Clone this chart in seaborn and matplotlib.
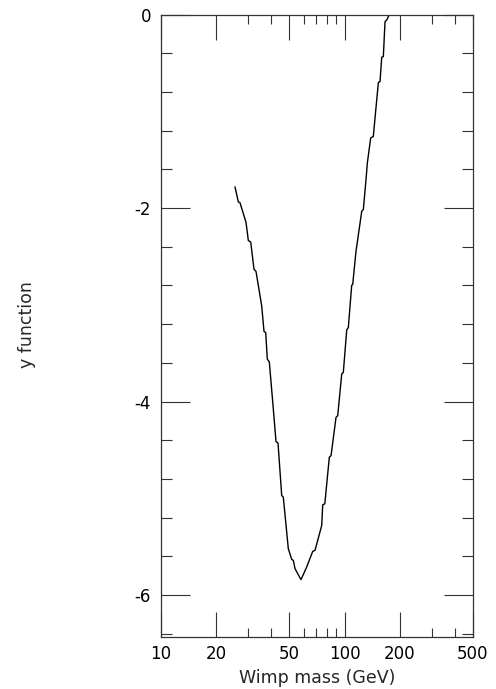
import numpy as np
import pandas as pd
import matplotlib
matplotlib.use("Agg")
import matplotlib.pyplot as plt
import seaborn as sns

# Data (Wimp mass in GeV, y function)
mass = [25.36, 26.44, 27.01, 29.12, 29.97, 30.89, 32.19, 33.00, 35.44, 36.48,
        37.26, 38.02, 38.98, 40.99, 42.40, 43.47, 45.53, 46.45, 49.46, 51.61,
        52.65, 53.80, 57.28, 57.99, 62.29, 67.14, 69.10, 75.16, 76.11, 78.13,
        82.67, 84.45, 89.92, 91.84, 96.55, 98.51, 102.8, 104.9, 109.4, 110.8,
        115.5, 124.1, 126.6, 130.9, 133.1, 138.8, 143.4, 152.8, 156.0, 159.4,
        162.6, 166.1, 169.7, 175.3, 178.0]
yfunc = [-1.781, -1.936, -1.946, -2.149, -2.335, -2.353, -2.634, -2.655, -3.012, -3.276,
         -3.287, -3.562, -3.590, -4.077, -4.414, -4.428, -4.971, -4.988, -5.521, -5.631,
         -5.641, -5.727, -5.823, -5.840, -5.709, -5.548, -5.538, -5.280, -5.067, -5.057,
         -4.575, -4.559, -4.163, -4.146, -3.716, -3.699, -3.260, -3.235, -2.799, -2.789,
         -2.445, -2.033, -2.015, -1.706, -1.534, -1.276, -1.260, -0.703, -0.693, -0.441,
         -0.435, -0.074, -0.057, 0.0, 0.0]

xticks_major = [10, 20, 50, 100, 200, 500]
xtick_labels = ["10", "20", "50", "100", "200", "500"]
xticks_minor = [30, 40, 60, 70, 80, 90, 300, 400]
yticks_major = [0, -2, -4, -6]
ytick_labels = ["0", "-2", "-4", "-6"]

sns.set_style("ticks")
plt.rcParams["font.family"] = ["DejaVu Sans"]
plt.rcParams["axes.unicode_minus"] = False

fig = plt.figure(figsize=(4.96, 6.89), dpi=100)
ax = fig.add_axes([160.7 / 496, 1 - 636.7 / 689, (473 - 160.7) / 496, (636.7 - 14.5) / 689])

df = pd.DataFrame({"mass": mass, "y": yfunc})
sns.lineplot(data=df, x="mass", y="y", sort=False, estimator=None,
             color="black", linewidth=1.0, ax=ax)

ax.set_xscale("log")
ax.set_xlim(10, 500)
ax.set_ylim(-6.43, 0)

ax.set_xticks(xticks_major)
ax.set_xticklabels(xtick_labels)
ax.set_xticks(xticks_minor, minor=True)
ax.set_xticklabels([], minor=True)
ax.set_yticks(yticks_major)
ax.set_yticklabels(ytick_labels)
ax.set_yticks(np.round(np.arange(-6.4, 0.01, 0.4), 2), minor=True)
ax.set_yticklabels([], minor=True)

ax.tick_params(axis="x", which="major", direction="in", length=18, width=0.8,
               top=True, bottom=True, labelsize=12, pad=6, colors="#333333", labelcolor="black")
ax.tick_params(axis="x", which="minor", direction="in", length=6.5, width=0.8,
               top=True, bottom=True, colors="#333333")
ax.tick_params(axis="y", which="major", direction="in", length=21, width=0.8,
               left=True, right=True, labelsize=12, pad=7, colors="#333333", labelcolor="black")
ax.tick_params(axis="y", which="minor", direction="in", length=8, width=0.8,
               left=True, right=True, colors="#333333")

for s in ax.spines.values():
    s.set_linewidth(0.9)
    s.set_color("#333333")
    s.set_visible(True)

ax.set_xlabel("Wimp mass (GeV)", fontsize=12.5, labelpad=4)
ax.set_ylabel("")
fig.text(27 / 496, 1 - 325 / 689, "y function", rotation=90, fontsize=12.5,
         ha="center", va="center")

fig.savefig("out.png", dpi=100)
